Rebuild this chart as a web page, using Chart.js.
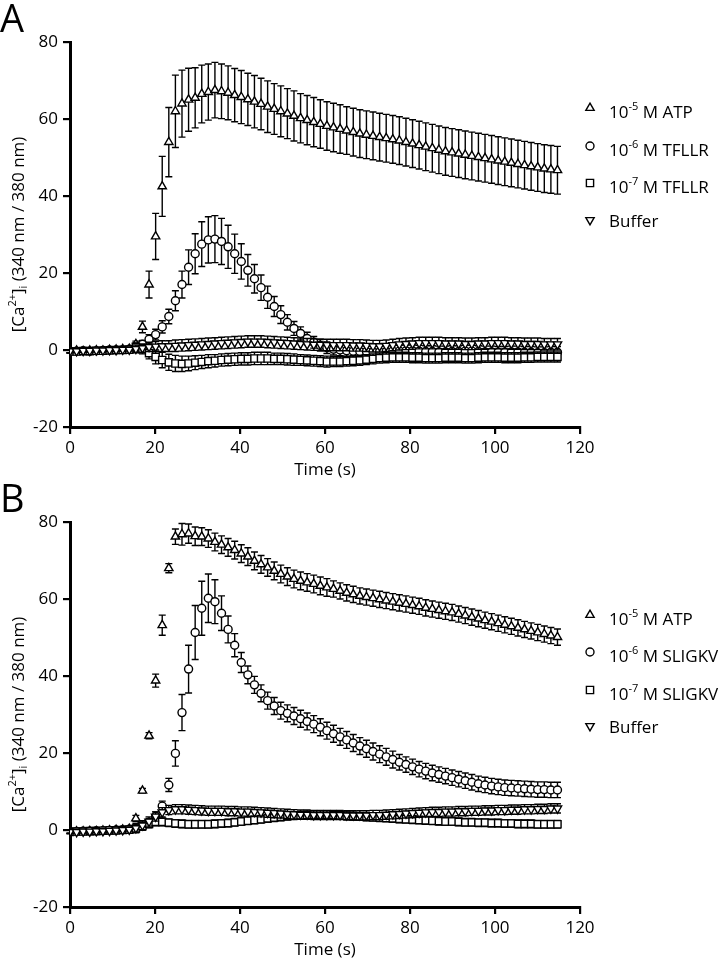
<!DOCTYPE html>
<html>
<head>
<meta charset="utf-8">
<script src="https://cdn.jsdelivr.net/npm/chart.js@4.4.0/dist/chart.umd.min.js"></script>
<style>
body { margin: 0; background: #fff; }
.panel { width: 720px; height: 480px; }
</style>
</head>
<body>
<div class="panel"><canvas id="chartA" width="720" height="480"></canvas></div>
<div class="panel"><canvas id="chartB" width="720" height="480"></canvas></div>
<script>
// sample times (s)
var times = [
  0, 1.55, 3.1, 4.65, 6.2, 7.75, 9.3, 10.85, 12.4, 13.95,
  15.5, 17.05, 18.6, 20.15, 21.7, 23.25, 24.8, 26.35, 27.9, 29.45,
  31, 32.55, 34.1, 35.65, 37.2, 38.75, 40.3, 41.85, 43.4, 44.95,
  46.5, 48.05, 49.6, 51.15, 52.7, 54.25, 55.8, 57.35, 58.9, 60.45,
  62, 63.55, 65.1, 66.65, 68.2, 69.75, 71.3, 72.85, 74.4, 75.95,
  77.5, 79.05, 80.6, 82.15, 83.7, 85.25, 86.8, 88.35, 89.9, 91.45,
  93, 94.55, 96.1, 97.65, 99.2, 100.75, 102.3, 103.85, 105.4, 106.95,
  108.5, 110.05, 111.6, 113.15, 114.7
];
var xTicks = [0, 20, 40, 60, 80, 100, 120];
var yTicks = [-20, 0, 20, 40, 60, 80];

// ---- panel A (TFLLR) ----
var atpA = [
  -0.3, -0.2, -0.3, -0.2, -0.1, -0.2, 0, 0.1, 0.2, 0.3,
  1.5, 6, 17, 29.5, 42.5, 54, 62, 64, 65, 65.5,
  66.5, 67, 67.5, 67.2, 66.8, 66.2, 65.7, 65.1, 64.5, 63.9,
  63.2, 62.6, 62, 61.4, 60.8, 60.2, 59.7, 59.2, 58.7, 58.2,
  57.8, 57.4, 57, 56.6, 56.2, 55.9, 55.6, 55.3, 55, 54.7,
  54.4, 54, 53.6, 53.2, 52.8, 52.4, 52, 51.6, 51.3, 51,
  50.7, 50.4, 50.1, 49.8, 49.5, 49.2, 48.9, 48.6, 48.3, 48,
  47.7, 47.4, 47.1, 46.9, 46.7
];
var atpAErr = [
  0.4, 0.4, 0.4, 0.4, 0.4, 0.4, 0.4, 0.4, 0.4, 0.5,
  0.8, 1.5, 3.5, 6, 7.8, 9, 9.4, 8.7, 8.2, 7.8,
  7.5, 7.3, 7.2, 7.1, 7, 6.9, 6.9, 6.8, 6.8, 6.7,
  6.7, 6.6, 6.6, 6.5, 6.5, 6.4, 6.4, 6.4, 6.3, 6.3,
  6.3, 6.3, 6.2, 6.2, 6.2, 6.2, 6.2, 6.2, 6.2, 6.2,
  6.2, 6.2, 6.2, 6.2, 6.2, 6.2, 6.2, 6.2, 6.2, 6.2,
  6.2, 6.2, 6.2, 6.2, 6.2, 6.2, 6.2, 6.2, 6.2, 6.2,
  6.2, 6.2, 6.2, 6.2, 6.2
];
var tfllr6 = [
  -0.3, -0.3, -0.2, -0.3, -0.2, -0.1, 0, 0, 0.1, 0.2,
  0.6, 1.5, 2.8, 4, 6, 8.7, 12.8, 17, 21.5, 25,
  27.5, 28.6, 28.8, 28.2, 26.8, 25, 23, 20.7, 18.5, 16.2,
  13.7, 11.3, 9.2, 7.2, 5.6, 4.3, 3, 2, 1.2, 0.6,
  0.2, 0, -0.2, -0.3, -0.4, -0.4, -0.5, -0.5, -0.4, -0.3,
  -0.3, -0.2, -0.2, -0.3, -0.4, -0.4, -0.5, -0.5, -0.4, -0.4,
  -0.3, -0.3, -0.4, -0.5, -0.5, -0.6, -0.6, -0.5, -0.5, -0.6,
  -0.6, -0.7, -0.7, -0.6, -0.6
];
var tfllr6Err = [
  0.4, 0.4, 0.4, 0.4, 0.4, 0.4, 0.4, 0.4, 0.4, 0.4,
  0.7, 1, 1.2, 1.4, 1.6, 1.9, 2.6, 3.5, 4.5, 5.2,
  5.8, 6, 6.1, 6, 5.6, 5.1, 4.6, 4.1, 3.7, 3.3,
  2.9, 2.6, 2.3, 2, 1.8, 1.7, 1.6, 1.5, 1.5, 1.5,
  1.5, 1.5, 1.5, 1.5, 1.5, 1.5, 1.5, 1.5, 1.5, 1.5,
  1.5, 1.5, 1.5, 1.5, 1.5, 1.5, 1.5, 1.5, 1.5, 1.5,
  1.5, 1.5, 1.5, 1.5, 1.5, 1.5, 1.5, 1.5, 1.5, 1.5,
  1.5, 1.5, 1.5, 1.5, 1.5
];
var tfllr7 = [
  -0.4, -0.4, -0.3, -0.3, -0.2, -0.2, -0.1, 0, 0, 0.1,
  0.8, 0.2, -0.8, -1.8, -2.6, -3.2, -3.5, -3.6, -3.5, -3.3,
  -3.1, -2.9, -2.8, -2.6, -2.5, -2.4, -2.3, -2.3, -2.2, -2.2,
  -2.2, -2.3, -2.3, -2.4, -2.5, -2.6, -2.7, -2.8, -2.9, -3,
  -3, -3, -2.9, -2.8, -2.7, -2.5, -2.3, -2.1, -2, -1.9,
  -1.9, -1.9, -2, -2, -2.1, -2.1, -2.1, -2, -2, -2,
  -2.1, -2.1, -2, -1.9, -1.9, -1.9, -2, -2, -2, -1.9,
  -1.9, -1.8, -1.8, -1.8, -1.8
];
var tfllr7Err = [
  0.4, 0.4, 0.4, 0.4, 0.4, 0.4, 0.4, 0.4, 0.4, 0.4,
  1, 1.2, 1.5, 1.8, 2, 2.1, 2.1, 2, 1.9, 1.8,
  1.7, 1.7, 1.6, 1.6, 1.6, 1.6, 1.6, 1.6, 1.6, 1.6,
  1.6, 1.5, 1.5, 1.5, 1.5, 1.4, 1.4, 1.4, 1.4, 1.4,
  1.3, 1.3, 1.3, 1.3, 1.3, 1.3, 1.3, 1.3, 1.3, 1.3,
  1.3, 1.3, 1.3, 1.3, 1.3, 1.3, 1.3, 1.3, 1.3, 1.3,
  1.3, 1.3, 1.3, 1.3, 1.3, 1.3, 1.3, 1.3, 1.3, 1.3,
  1.3, 1.3, 1.3, 1.3, 1.3
];
var bufferA = [
  -0.3, -0.3, -0.2, -0.2, -0.1, -0.1, 0, 0, 0.1, 0.1,
  0.3, 0.5, 0.8, 0.9, 1, 1, 1.1, 1.2, 1.3, 1.4,
  1.5, 1.6, 1.7, 1.8, 1.9, 2, 2.1, 2.2, 2.2, 2.2,
  2.1, 2, 1.9, 1.8, 1.7, 1.6, 1.5, 1.4, 1.4, 1.3,
  1.3, 1.3, 1.3, 1.2, 1.2, 1.1, 1, 1, 1.1, 1.3,
  1.5, 1.6, 1.7, 1.8, 1.8, 1.8, 1.8, 1.7, 1.7, 1.7,
  1.6, 1.6, 1.7, 1.7, 1.8, 1.8, 1.8, 1.7, 1.7, 1.6,
  1.6, 1.6, 1.5, 1.5, 1.5
];
var bufferAErr = [
  0.4, 0.4, 0.4, 0.4, 0.4, 0.4, 0.4, 0.4, 0.4, 0.4,
  1, 1.1, 1.2, 1.3, 1.4, 1.4, 1.5, 1.5, 1.5, 1.5,
  1.5, 1.5, 1.5, 1.5, 1.5, 1.5, 1.5, 1.5, 1.5, 1.5,
  1.5, 1.5, 1.5, 1.5, 1.5, 1.5, 1.5, 1.5, 1.5, 1.5,
  1.5, 1.5, 1.5, 1.5, 1.5, 1.5, 1.5, 1.5, 1.5, 1.5,
  1.5, 1.5, 1.5, 1.5, 1.5, 1.5, 1.5, 1.5, 1.5, 1.5,
  1.5, 1.5, 1.5, 1.5, 1.5, 1.5, 1.5, 1.5, 1.5, 1.5,
  1.5, 1.5, 1.5, 1.5, 1.5
];

// ---- panel B (SLIGKV) ----
var atpB = [
  -0.5, -0.4, -0.4, -0.3, -0.3, -0.2, -0.1, 0, 0.1, 0.3,
  3, 10.2, 24.5, 38.8, 53.2, 68, 76.2, 76.8, 77, 76.3,
  76.2, 75.7, 74.8, 74.1, 73.4, 72.7, 71.8, 71, 69.9, 69,
  68.2, 67.3, 66.5, 65.8, 65.2, 64.7, 64.3, 63.9, 63.4, 63,
  62.6, 62.1, 61.6, 61.2, 60.8, 60.5, 60.2, 59.9, 59.6, 59.3,
  59, 58.7, 58.4, 58.1, 57.7, 57.4, 57.1, 56.8, 56.5, 56.1,
  55.7, 55.3, 54.9, 54.5, 54.1, 53.7, 53.3, 52.9, 52.5, 52.1,
  51.7, 51.3, 50.9, 50.5, 50.1
];
var atpBErr = [
  0.4, 0.4, 0.4, 0.4, 0.4, 0.4, 0.4, 0.4, 0.4, 0.4,
  0.8, 0.6, 0.8, 1.7, 2.6, 1.2, 2, 2.8, 2.5, 2.4,
  2.3, 2.3, 2.3, 2.3, 2.3, 2.3, 2.3, 2.3, 2.3, 2.3,
  2.3, 2.3, 2.3, 2.3, 2.3, 2.3, 2.3, 2.3, 2.3, 2.3,
  2.1, 2.1, 2.1, 2.1, 2.1, 2.1, 2.1, 2.1, 2.1, 2.1,
  2.1, 2.1, 2.1, 2.1, 2.1, 2.1, 2.1, 2.1, 2.1, 2.1,
  2.1, 2.1, 2.1, 2.1, 2.1, 2.1, 2.1, 2.1, 2.1, 2.1,
  2.1, 2.1, 2.1, 2.1, 2.1
];
var sligkv6 = [
  -0.4, -0.4, -0.3, -0.3, -0.2, -0.2, -0.1, 0, 0.1, 0.2,
  0.5, 1, 2, 3.5, 6.2, 11.7, 19.9, 30.5, 41.8, 51.3,
  57.6, 60.2, 59.3, 56.3, 52.1, 48, 43.5, 40.3, 37.7, 35.5,
  33.6, 32.2, 31, 30.3, 29.6, 28.9, 28.2, 27.5, 26.7, 25.8,
  25, 24.2, 23.4, 22.6, 21.8, 21.1, 20.4, 19.7, 19, 18.3,
  17.6, 17, 16.4, 15.8, 15.3, 14.8, 14.4, 14, 13.6, 13.2,
  12.8, 12.4, 12, 11.7, 11.4, 11.2, 11, 10.9, 10.8, 10.7,
  10.6, 10.5, 10.5, 10.4, 10.4
];
var sligkv6Err = [
  0.4, 0.4, 0.4, 0.4, 0.4, 0.4, 0.4, 0.4, 0.4, 0.4,
  0.6, 0.8, 1, 1.2, 1.3, 1.7, 3.3, 4.7, 6.2, 7,
  7, 6.3, 5.7, 4.5, 3.5, 3, 2.6, 2.3, 2.2, 2.2,
  2.2, 2.2, 2.2, 2.2, 2.2, 2.2, 2.2, 2.2, 2.2, 2.2,
  2.2, 2.2, 2.2, 2.2, 2.2, 2.2, 2.2, 2.2, 2.2, 2.2,
  2, 2, 2, 2, 2, 2, 2, 2, 2, 2,
  2, 2, 2, 2, 2, 2, 2, 2, 2, 2,
  2, 2, 2, 2, 2
];
var sligkv7 = [
  -0.5, -0.4, -0.4, -0.3, -0.3, -0.2, -0.1, -0.1, 0, 0.1,
  0.4, 1, 1.6, 2.1, 2.1, 1.9, 1.7, 1.6, 1.5, 1.5,
  1.5, 1.5, 1.6, 1.7, 1.8, 2, 2.2, 2.4, 2.6, 2.8,
  3, 3.2, 3.4, 3.6, 3.7, 3.8, 3.9, 4, 4, 4,
  3.9, 3.8, 3.7, 3.6, 3.5, 3.4, 3.3, 3.2, 3.1, 3,
  2.9, 2.8, 2.7, 2.6, 2.5, 2.4, 2.3, 2.2, 2.2, 2.1,
  2, 2, 1.9, 1.9, 1.8, 1.8, 1.7, 1.7, 1.6, 1.6,
  1.6, 1.5, 1.5, 1.5, 1.5
];
var sligkv7Err = [
  0.4, 0.4, 0.4, 0.4, 0.4, 0.4, 0.4, 0.4, 0.4, 0.4,
  1, 1, 1, 1, 1, 1, 1, 1, 1, 1,
  1, 1, 1, 1, 1, 1, 1, 1, 1, 1,
  1, 1, 1, 1, 1, 1, 1, 1, 1, 1,
  1, 1, 1, 1, 1, 1, 1, 1, 1, 1,
  1, 1, 1, 1, 1, 1, 1, 1, 1, 1,
  1, 1, 1, 1, 1, 1, 1, 1, 1, 1,
  1, 1, 1, 1, 1
];
var bufferB = [
  -0.5, -0.5, -0.4, -0.4, -0.3, -0.3, -0.2, -0.1, 0, 0.1,
  0.5, 1.2, 2.2, 3.5, 4.6, 5.2, 5.4, 5.4, 5.3, 5.2,
  5.1, 5, 5, 5, 4.9, 4.9, 4.8, 4.8, 4.7, 4.6,
  4.5, 4.4, 4.3, 4.2, 4.1, 4, 4, 3.9, 3.9, 3.9,
  3.9, 3.9, 3.8, 3.8, 3.8, 3.8, 3.9, 3.9, 4, 4.1,
  4.2, 4.3, 4.4, 4.5, 4.6, 4.7, 4.7, 4.8, 4.8, 4.9,
  4.9, 5, 5, 5.1, 5.1, 5.2, 5.2, 5.3, 5.3, 5.4,
  5.4, 5.5, 5.5, 5.6, 5.6
];
var bufferBErr = [
  0.4, 0.4, 0.4, 0.4, 0.4, 0.4, 0.4, 0.4, 0.4, 0.4,
  1.2, 1.2, 1.2, 1.2, 1.2, 1.2, 1.2, 1.2, 1.2, 1.2,
  1.2, 1.2, 1.2, 1.2, 1.2, 1.2, 1.2, 1.2, 1.2, 1.2,
  1.2, 1.2, 1.2, 1.2, 1.2, 1.2, 1.2, 1.2, 1.2, 1.2,
  1.2, 1.2, 1.2, 1.2, 1.2, 1.2, 1.2, 1.2, 1.2, 1.2,
  1.2, 1.2, 1.2, 1.2, 1.2, 1.2, 1.2, 1.2, 1.2, 1.2,
  1.2, 1.2, 1.2, 1.2, 1.2, 1.2, 1.2, 1.2, 1.2, 1.2,
  1.2, 1.2, 1.2, 1.2, 1.2
];

var FONT = "'Open Sans', sans-serif";
Chart.defaults.font.family = FONT;
Chart.defaults.color = '#000';

// marker styles: triangle, circle, square, inverted triangle
var markers = [
  { pointStyle: 'triangle', radius: 4.8, rotation: 0 },
  { pointStyle: 'circle', radius: 4, rotation: 0 },
  { pointStyle: 'rect', radius: 5.1, rotation: 0 },
  { pointStyle: 'triangle', radius: 4.8, rotation: 180 }
];
var LW = 1.4;

function toPoints(vals) {
  return times.map(function (t, i) { return { x: t, y: vals[i] }; });
}

function makeDataset(label, vals, errs, m) {
  return {
    label: label,
    data: toPoints(vals),
    errors: errs,
    showLine: false,
    pointStyle: m.pointStyle,
    pointRadius: m.radius,
    pointRotation: m.rotation,
    pointBackgroundColor: '#fff',
    pointBorderColor: '#000',
    pointBorderWidth: LW
  };
}

// draws text piece by piece so super/subscripts stay real text
function drawRich(ctx, parts, x, y, size) {
  parts.forEach(function (p) {
    var small = p[1] !== '';
    ctx.font = (small ? Math.round(size * 0.65) : size) + 'px ' + FONT;
    var dy = p[1] === 'sup' ? -size * 0.36 : (p[1] === 'sub' ? size * 0.28 : 0);
    ctx.fillText(p[0], x, y + dy);
    x += ctx.measureText(p[0]).width;
  });
}
function richWidth(ctx, parts, size) {
  var w = 0;
  parts.forEach(function (p) {
    ctx.font = (p[1] !== '' ? Math.round(size * 0.65) : size) + 'px ' + FONT;
    w += ctx.measureText(p[0]).width;
  });
  return w;
}

var errorBars = {
  id: 'errorBars',
  beforeDatasetDraw: function (chart, args) {
    var ctx = chart.ctx, xs = chart.scales.x, ys = chart.scales.y;
    var ds = chart.data.datasets[args.index];
    ctx.save();
    ctx.strokeStyle = '#000';
    ctx.lineWidth = LW;
    ds.data.forEach(function (p, i) {
      var px = xs.getPixelForValue(p.x);
      var top = ys.getPixelForValue(p.y + ds.errors[i]);
      var bot = ys.getPixelForValue(p.y - ds.errors[i]);
      ctx.beginPath();
      ctx.moveTo(px, top); ctx.lineTo(px, bot);
      ctx.moveTo(px - 3.5, top); ctx.lineTo(px + 3.5, top);
      ctx.moveTo(px - 3.5, bot); ctx.lineTo(px + 3.5, bot);
      ctx.stroke();
    });
    ctx.restore();
  }
};

var decor = {
  id: 'decor',
  afterDraw: function (chart, args, opts) {
    var ctx = chart.ctx, area = chart.chartArea;
    ctx.save();
    ctx.fillStyle = '#000';
    // panel letter
    ctx.font = '38px ' + FONT;
    ctx.textBaseline = 'alphabetic';
    ctx.textAlign = 'left';
    ctx.fillText(opts.letter, 0, 32);
    // y axis title
    var title = [['[Ca', ''], ['2+', 'sup'], [']', ''], ['i', 'sub'], [' (340 nm / 380 nm)', '']];
    ctx.save();
    ctx.translate(19, (area.top + area.bottom) / 2);
    ctx.rotate(-Math.PI / 2);
    ctx.textBaseline = 'middle';
    drawRich(ctx, title, -richWidth(ctx, title, 17) / 2, 0, 17);
    ctx.restore();
    // legend
    ctx.textBaseline = 'middle';
    opts.legend.forEach(function (parts, i) {
      var y = opts.rows[i];
      var m = markers[i];
      ctx.fillStyle = '#fff';
      ctx.strokeStyle = '#000';
      ctx.lineWidth = LW;
      Chart.helpers.drawPoint(ctx, { pointStyle: m.pointStyle, radius: m.radius, rotation: m.rotation, borderWidth: LW },
        area.right + 10, y - (i === 3 ? 2 : 5));
      ctx.fillStyle = '#000';
      drawRich(ctx, parts, area.right + 29, y, 17);
    });
    ctx.restore();
  }
};

function makeChart(id, letter, names, series, errs, rows) {
  var datasets = [];
  for (var i = 3; i >= 0; i--) {
    datasets.push(makeDataset(names[i], series[i], errs[i], markers[i]));
  }
  var axisFont = { size: 17, family: FONT };
  return new Chart(document.getElementById(id), {
    type: 'scatter',
    data: { datasets: datasets },
    plugins: [errorBars, decor],
    options: {
      responsive: false,
      animation: false,
      devicePixelRatio: 1,
      events: [],
      layout: { padding: { top: 42, right: 140, bottom: 0, left: 0 } },
      plugins: {
        legend: { display: false },
        tooltip: { enabled: false },
        decor: {
          letter: letter,
          rows: rows,
          legend: [
            [['10', ''], ['-5', 'sup'], [' M ATP', '']],
            [['10', ''], ['-6', 'sup'], [' M ' + names[1], '']],
            [['10', ''], ['-7', 'sup'], [' M ' + names[2], '']],
            [['Buffer', '']]
          ]
        }
      },
      scales: {
        x: {
          type: 'linear', min: 0, max: 120,
          afterBuildTicks: function (s) { s.ticks = xTicks.map(function (v) { return { value: v }; }); },
          afterFit: function (s) { s.height = 53; },
          ticks: { font: axisFont, color: '#000', padding: 4, maxRotation: 0 },
          grid: { drawOnChartArea: false, drawTicks: true, tickLength: 7, color: '#000', lineWidth: 2.2 },
          border: { display: true, color: '#000', width: 3 },
          title: { display: true, text: 'Time (s)', font: axisFont, color: '#000', padding: { top: 0, bottom: 0 } }
        },
        y: {
          type: 'linear', min: -20, max: 80,
          afterBuildTicks: function (s) { s.ticks = yTicks.map(function (v) { return { value: v }; }); },
          afterFit: function (s) { s.width = 70; },
          ticks: { font: axisFont, color: '#000', padding: 5 },
          grid: { drawOnChartArea: false, drawTicks: true, tickLength: 7, color: '#000', lineWidth: 2.2 },
          border: { display: true, color: '#000', width: 3 }
        }
      }
    }
  });
}

makeChart('chartA', 'A', ['ATP', 'TFLLR', 'TFLLR', 'Buffer'],
  [atpA, tfllr6, tfllr7, bufferA], [atpAErr, tfllr6Err, tfllr7Err, bufferAErr],
  [113, 151, 188, 222]);
makeChart('chartB', 'B', ['ATP', 'SLIGKV', 'SLIGKV', 'Buffer'],
  [atpB, sligkv6, sligkv7, bufferB], [atpBErr, sligkv6Err, sligkv7Err, bufferBErr],
  [140, 177, 215, 248]);
</script>
</body>
</html>
